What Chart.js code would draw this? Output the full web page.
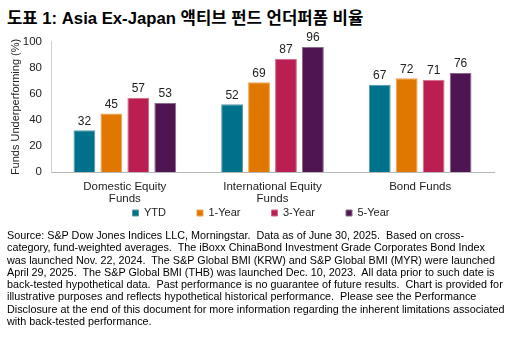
<!DOCTYPE html>
<html>
<head>
<meta charset="utf-8">
<script src="https://cdn.jsdelivr.net/npm/chart.js@4/dist/chart.umd.min.js"></script>
<style>
  html, body { margin:0; padding:0; background:#fff; }
  body { width:519px; height:337px; position:relative; overflow:hidden; font-family:Arial, "Liberation Sans", "Noto Sans CJK KR", sans-serif; color:#000; }
  #title { position:absolute; left:7px; top:5px; font-size:16.7px; font-weight:bold; white-space:nowrap; font-family:Arial, "Liberation Sans", "Noto Sans CJK KR", sans-serif; }
  #wrap { position:absolute; left:0; top:26px; width:519px; height:232px; }
  #note { position:absolute; left:7px; top:229px; font-size:10.8px; line-height:12.3px; white-space:nowrap; color:#000; }
</style>
</head>
<body>
<div id="title">도표 1: Asia Ex-Japan 액티브 펀드 언더퍼폼 비율</div>
<div id="wrap"><canvas id="chart" width="519" height="232"></canvas></div>
<div id="note">Source: S&amp;P Dow Jones Indices LLC, Morningstar.&nbsp; Data as of June 30, 2025.&nbsp; Based on cross-<br>category, fund-weighted averages.&nbsp; The iBoxx ChinaBond Investment Grade Corporates Bond Index<br>was launched Nov. 22, 2024.&nbsp; The S&amp;P Global BMI (KRW) and S&amp;P Global BMI (MYR) were launched<br>April 29, 2025.&nbsp; The S&amp;P Global BMI (THB) was launched Dec. 10, 2023.&nbsp; All data prior to such date is<br>back-tested hypothetical data.&nbsp; Past performance is no guarantee of future results.&nbsp; Chart is provided for<br>illustrative purposes and reflects hypothetical historical performance.&nbsp; Please see the Performance<br>Disclosure at the end of this document for more information regarding the inherent limitations associated<br>with back-tested performance.</div>
<script>
var CATEGORIES = [['Domestic Equity','Funds'], ['International Equity','Funds'], 'Bond Funds'];
var SERIES = ['YTD', '1-Year', '3-Year', '5-Year'];
var YTD = [32, 52, 67];
var ONE_YEAR = [45, 69, 72];
var THREE_YEAR = [57, 87, 71];
var FIVE_YEAR = [53, 96, 76];
var Y_TICKS = [0, 20, 40, 60, 80, 100];

var COLORS = ['#00718a', '#e07800', '#bb1f51', '#4f1552'];
var EDGES = ['#5a9aac', '#eca24f', '#d06a8a', '#8a6a8c'];
var VALUES = [YTD, ONE_YEAR, THREE_YEAR, FIVE_YEAR];

var FONT = 'Arial, "Liberation Sans", sans-serif';

/* value labels on top of the bars */
var barLabels = {
  id: 'barLabels',
  afterDatasetsDraw: function(chart) {
    var ctx = chart.ctx;
    ctx.save();
    ctx.font = '12px ' + FONT;
    ctx.fillStyle = '#222';
    ctx.textAlign = 'center';
    ctx.textBaseline = 'bottom';
    chart.data.datasets.forEach(function(ds, i) {
      chart.getDatasetMeta(i).data.forEach(function(bar, j) {
        ctx.fillText(ds.data[j], bar.x, bar.y - 3);
      });
    });
    ctx.restore();
  }
};

/* move the legend row up under the axis labels and a bit to the right */
var legendShift = {
  id: 'legendShift',
  afterLayout: function(chart) {
    var lg = chart.legend;
    if (!lg) return;
    lg.left += 14; lg.right += 14;
    var dy = (187 - 36.5) - lg.top;
    lg.top += dy; lg.bottom += dy;
  }
};

new Chart(document.getElementById('chart'), {
  type: 'bar',
  data: {
    labels: CATEGORIES,
    datasets: SERIES.map(function(name, i) {
      return {
        label: name,
        data: VALUES[i],
        backgroundColor: COLORS[i],
        borderColor: EDGES[i],
        borderWidth: 1,
        barPercentage: 0.81,
        categoryPercentage: 0.73
      };
    })
  },
  plugins: [barLabels, legendShift],
  options: {
    responsive: false,
    animation: false,
    layout: { padding: { top: 10, right: 25, left: 0, bottom: 0 } },
    plugins: {
      tooltip: { enabled: false },
      legend: {
        position: 'bottom',
        labels: {
          boxWidth: 6, boxHeight: 6, padding: 31,
          color: '#222',
          font: { size: 11, family: FONT }
        }
      }
    },
    scales: {
      x: {
        grid: { display: false, drawTicks: false },
        border: { color: '#b8b8b8' },
        ticks: { color: '#222', padding: 9, font: { size: 11.5, family: FONT, lineHeight: 1.05 }, maxRotation: 0 },
        afterFit: function(s) { s.height = 34; }
      },
      y: {
        min: 0, max: 100,
        afterBuildTicks: function(s) { s.ticks = Y_TICKS.map(function(v){ return {value: v}; }); },
        grid: { display: false, drawTicks: false },
        border: { color: '#cfcfcf' },
        ticks: { color: '#222', padding: 9, font: { size: 11.5, family: FONT } },
        title: { display: true, text: 'Funds Underperforming (%)', color: '#222', font: { size: 11, family: FONT }, padding: { top: 9, bottom: 2 } },
        afterFit: function(s) { s.width = 51; }
      }
    }
  }
});
</script>
</body>
</html>
